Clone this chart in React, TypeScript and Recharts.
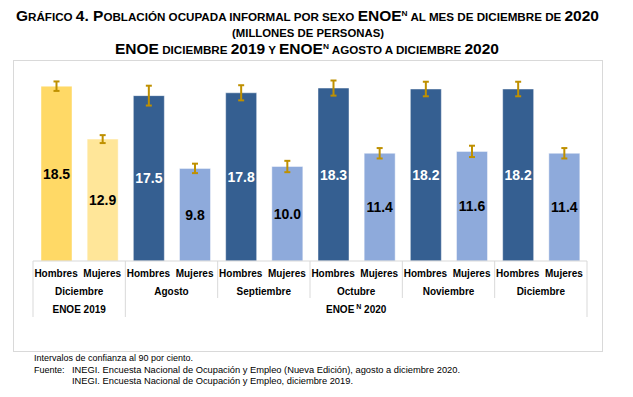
import React from "react";
import { BarChart, Bar, XAxis, YAxis, Cell, ErrorBar, LabelList } from "recharts";

// categories
const sexes = ["Hombres", "Mujeres"];
const months = ["Diciembre", "Agosto", "Septiembre", "Octubre", "Noviembre", "Diciembre"];
const surveys = ["ENOE 2019", "ENOE", "ENOE", "ENOE", "ENOE", "ENOE"];

// millones de personas
const values = [18.5, 12.9, 17.5, 9.8, 17.8, 10.0, 18.3, 11.4, 18.2, 11.6, 18.2, 11.4];
// intervalo de confianza al 90% (semi-amplitud)
const errors = [0.5, 0.42, 1.05, 0.5, 0.8, 0.6, 0.8, 0.55, 0.77, 0.6, 0.77, 0.55];

const W = 633;
const H = 397;
const LEFT = 33;
const RIGHT = 46;
const TOP = 72;
const BASE = 261;
const BAND = (W - LEFT - RIGHT) / values.length;
const FONT = "'Liberation Sans', Arial, sans-serif";
const GRID = "#D9D9D9";

const data = values.map((v, i) => ({
  sex: sexes[i % 2],
  month: months[Math.floor(i / 2)],
  survey: surveys[Math.floor(i / 2)],
  value: v,
  err: errors[i],
}));

const barColor = (i: number) => {
  const is2019 = data[i].survey === "ENOE 2019";
  if (is2019) return i % 2 === 0 ? "#FFD966" : "#FFE699";
  return i % 2 === 0 ? "#355F91" : "#8EAADB";
};
const labelColor = (i: number) => (i >= 2 && i % 2 === 0 ? "#FFFFFF" : "#000000");

const AxisTick = (props: any) => {
  const { x, payload } = props;
  const i = payload.index;
  const left = x - BAND / 2;
  const items: React.ReactNode[] = [];
  items.push(
    <text key="s" x={x} y={BASE + 16} textAnchor="middle" fontSize={10} fontWeight="bold" fill="#000">
      {payload.value}
    </text>
  );
  if (i % 2 === 0) {
    const boundary = i === 0 || data[i].survey !== data[i - 1].survey;
    items.push(
      <line key="l" x1={left} x2={left} y1={BASE} y2={boundary ? BASE + 56 : BASE + 37} stroke={GRID} />
    );
    items.push(
      <text key="m" x={left + BAND} y={BASE + 34} textAnchor="middle" fontSize={10} fontWeight="bold" fill="#000">
        {data[i].month}
      </text>
    );
    if (i === 0) {
      items.push(
        <text key="g" x={left + BAND} y={BASE + 52} textAnchor="middle" fontSize={10} fontWeight="bold" fill="#000">
          {data[i].survey}
        </text>
      );
    }
    if (boundary && i > 0) {
      const cx = left + ((values.length - i) * BAND) / 2;
      items.push(
        <text key="g2" x={cx} y={BASE + 52} textAnchor="middle" fontSize={10} fontWeight="bold" fill="#000">
          {data[i].survey}
          <tspan fontSize={7} dy={-4}> N</tspan>
          <tspan dy={4}>  2020</tspan>
        </text>
      );
    }
  }
  if (i === values.length - 1) {
    items.push(<line key="r" x1={x + BAND / 2} x2={x + BAND / 2} y1={BASE} y2={BASE + 56} stroke={GRID} />);
  }
  return <g fontFamily={FONT}>{items}</g>;
};

const ValueLabel = (props: any) => {
  const { x, y, width, height, value, index } = props;
  return (
    <text
      x={x + width / 2}
      y={y + height / 2}
      dy={5}
      textAnchor="middle"
      fontSize={14}
      fontWeight="bold"
      fontFamily={FONT}
      fill={labelColor(index)}
    >
      {Number(value).toFixed(1)}
    </text>
  );
};

const Overlay = () => (
  <svg width={W} height={H} style={{ position: "absolute", left: 0, top: 0, pointerEvents: "none" }}>
    <g fontFamily={FONT} fontWeight="bold" fill="#000">
      <text x={16} y={21} textLength={583} lengthAdjust="spacingAndGlyphs">
        <tspan fontSize={14}>G</tspan>
        <tspan fontSize={10.5}>RÁFICO </tspan>
        <tspan fontSize={14}>4. P</tspan>
        <tspan fontSize={10.5}>OBLACIÓN OCUPADA INFORMAL POR SEXO </tspan>
        <tspan fontSize={14}>ENOE</tspan>
        <tspan fontSize={7.5} dy={-5}>N</tspan>
        <tspan fontSize={10.5} dy={5}> AL MES DE DICIEMBRE DE </tspan>
        <tspan fontSize={14}>2020</tspan>
      </text>
      <text x={232} y={37} fontSize={11} textLength={152} lengthAdjust="spacingAndGlyphs">
        (MILLONES DE PERSONAS)
      </text>
      <text x={115} y={54} textLength={384} lengthAdjust="spacingAndGlyphs">
        <tspan fontSize={14}>ENOE</tspan>
        <tspan fontSize={10.5}> DICIEMBRE </tspan>
        <tspan fontSize={14}>2019</tspan>
        <tspan fontSize={10.5}> Y </tspan>
        <tspan fontSize={14}>ENOE</tspan>
        <tspan fontSize={7.5} dy={-5}>N</tspan>
        <tspan fontSize={10.5} dy={5}> AGOSTO A DICIEMBRE </tspan>
        <tspan fontSize={14}>2020</tspan>
      </text>
    </g>
    <rect x={13.5} y={60.5} width={589} height={291} fill="none" stroke={GRID} />
    <g fontFamily={FONT} fontSize={9} fill="#000">
      <text x={34} y={361} textLength={159} lengthAdjust="spacingAndGlyphs">
        Intervalos de confianza al 90 por ciento.
      </text>
      <text x={34} y={372.5}>Fuente:</text>
      <text x={72} y={372.5} textLength={388} lengthAdjust="spacingAndGlyphs">
        INEGI. Encuesta Nacional de Ocupación y Empleo (Nueva Edición), agosto a diciembre 2020.
      </text>
      <text x={72} y={384} textLength={281} lengthAdjust="spacingAndGlyphs">
        INEGI. Encuesta Nacional de Ocupación y Empleo, diciembre 2019.
      </text>
    </g>
  </svg>
);

export default function App() {
  return (
    <div style={{ position: "absolute", left: 0, top: 0, width: W, height: H, background: "#fff" }}>
      <BarChart
        width={W}
        height={H}
        data={data}
        margin={{ top: TOP, right: RIGHT, bottom: H - BASE - 60, left: LEFT }}
      >
        <XAxis
          dataKey="sex"
          interval={0}
          tickLine={false}
          axisLine={{ stroke: GRID }}
          height={60}
          tick={<AxisTick />}
        />
        <YAxis hide domain={[0, 20]} />
        <Bar dataKey="value" barSize={31} isAnimationActive={false} stroke="#FFFFFF" strokeOpacity={0.45}>
          {data.map((_, i) => (
            <Cell key={i} fill={barColor(i)} />
          ))}
          <ErrorBar dataKey="err" width={3} stroke="#BF9000" strokeWidth={2} direction="y" />
          <LabelList dataKey="value" content={<ValueLabel />} />
        </Bar>
      </BarChart>
      <Overlay />
    </div>
  );
}
